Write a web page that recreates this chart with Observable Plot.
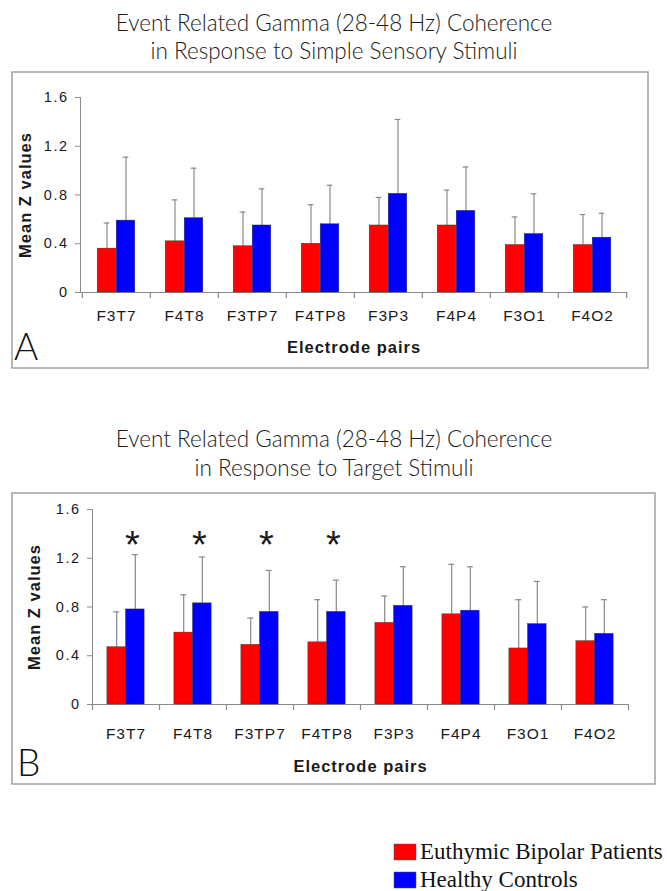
<!DOCTYPE html>
<html><head><meta charset="utf-8">
<script src="https://cdn.jsdelivr.net/npm/d3@7"></script>
<script src="https://cdn.jsdelivr.net/npm/@observablehq/plot@0.6"></script>
<style>
body{margin:0;background:#fff;}
#page{position:relative;width:667px;height:891px;overflow:hidden;background:#fff;}
.panel{position:absolute;}
.panel text{fill:#1a1a1a;letter-spacing:1px;}
.panel [aria-label^="y-axis"] text{font-size:14.5px;letter-spacing:1.5px;}
#overlay{position:absolute;left:0;top:0;pointer-events:none;}
</style></head><body><div id="page"></div>
<script>
// ---------- data ----------
const pairs = ["F3T7","F4T8","F3TP7","F4TP8","F3P3","F4P4","F3O1","F4O2"];
const seriesNames = ["Euthymic Bipolar Patients","Healthy Controls"];
const seriesColors = ["#ff0000","#0000ff"];
const yTicks = [0, 0.4, 0.8, 1.2, 1.6];
const titleA = ["Event Related Gamma (28-48 Hz) Coherence","in Response to Simple Sensory Stimuli"];
const titleB = ["Event Related Gamma (28-48 Hz) Coherence","in Response to Target Stimuli"];
const yLabel = "Mean Z values";
const xLabel = "Electrode pairs";
const panelLetters = ["A","B"];
// Panel A: simple sensory stimuli (bar = mean, whisker top = mean + SD)
const simpleBipolarMean  = [0.36,0.42,0.38,0.40,0.55,0.55,0.39,0.39];
const simpleBipolarTop   = [0.57,0.76,0.66,0.72,0.78,0.84,0.62,0.64];
const simpleControlMean  = [0.59,0.61,0.55,0.56,0.81,0.67,0.48,0.45];
const simpleControlTop   = [1.11,1.02,0.85,0.88,1.42,1.03,0.81,0.65];
// Panel B: target stimuli
const targetBipolarMean  = [0.47,0.59,0.49,0.51,0.67,0.74,0.46,0.52];
const targetBipolarTop   = [0.76,0.90,0.71,0.86,0.89,1.15,0.86,0.80];
const targetControlMean  = [0.78,0.83,0.76,0.76,0.81,0.77,0.66,0.58];
const targetControlTop   = [1.23,1.21,1.10,1.02,1.13,1.13,1.01,0.86];
const targetSignificant  = ["F3T7","F4T8","F3TP7","F4TP8"];
const starLevel = 1.30;

// ---------- drawing ----------
const page = document.getElementById("page");
const axisGray = "#8a8a8a";

function makePanel(cfg) {
  const {left, top, width, height, ml, mr, mt, mb, means, tops, stars, catDy, xLabDy, yLabDx} = cfg;
  const bw = (width - ml - mr) / pairs.length;
  const barW = bw * 0.278;
  const marks = [];
  marks.push(Plot.ruleY([0], {stroke: axisGray, strokeWidth: 1.2}));
  // category boundary ticks below the baseline
  marks.push(Plot.ruleX(pairs, {x: d => d, dx: -bw / 2, y1: () => 0, y2: () => 0, insetBottom: -6, stroke: axisGray, strokeWidth: 1.2}));
  marks.push(Plot.ruleX(pairs.slice(-1), {x: d => d, dx: bw / 2, y1: () => 0, y2: () => 0, insetBottom: -6, stroke: axisGray, strokeWidth: 1.2}));
  [0, 1].forEach(s => {
    const rows = pairs.map((p, i) => ({pair: p, mean: means[s][i], top: tops[s][i]}));
    const off = s === 0 ? -barW / 2 : barW / 2;
    marks.push(Plot.ruleX(rows, {x: "pair", y1: "mean", y2: "top", dx: off, stroke: axisGray, strokeWidth: 1.2}));
    marks.push(Plot.tickY(rows, {x: "pair", y: "top", dx: off, insetLeft: bw / 2 - 3, insetRight: bw / 2 - 3, stroke: axisGray, strokeWidth: 1.2}));
    marks.push(Plot.barY(rows, {
      x: "pair", y1: () => 0, y2: "mean", fill: seriesColors[s],
      stroke: "#333", strokeWidth: 0.4,
      insetLeft: s === 0 ? bw / 2 - barW : bw / 2,
      insetRight: s === 0 ? bw / 2 : bw / 2 - barW
    }));
  });
  if (stars) {
    marks.push(Plot.text(stars, {x: d => d, y: () => starLevel, text: () => "*", dx: 7, fontSize: 38, lineAnchor: "middle", fontFamily: "'Liberation Sans', Arial, sans-serif"}));
  }
  marks.push(Plot.text(pairs, {x: d => d, text: d => d, frameAnchor: "bottom", dy: catDy, lineAnchor: "middle", fontSize: 15.5, fontFamily: "'Liberation Sans', Arial, sans-serif"}));
  marks.push(Plot.text([xLabel], {text: d => d, frameAnchor: "bottom", dy: xLabDy, lineAnchor: "middle", fontSize: 16.5, fontWeight: "bold", fontFamily: "'Liberation Sans', Arial, sans-serif"}));
  marks.push(Plot.text([yLabel], {text: d => d, frameAnchor: "left", dx: yLabDx, rotate: -90, textAnchor: "middle", lineAnchor: "middle", fontSize: 16.5, fontWeight: "bold", fontFamily: "'Liberation Sans', Arial, sans-serif"}));

  const svg = Plot.plot({
    width, height,
    marginLeft: ml, marginRight: mr, marginTop: mt, marginBottom: mb,
    style: {fontFamily: "'Liberation Sans', Arial, sans-serif", fontSize: "14px", color: axisGray, background: "transparent", overflow: "visible"},
    x: {domain: pairs, padding: 0, axis: null},
    y: {domain: [0, 1.6], ticks: yTicks, tickFormat: d => d === 0 ? "0" : d.toFixed(1), tickSize: 5, tickPadding: 7, label: null, line: true},
    marks
  });
  const wrap = document.createElement("div");
  wrap.className = "panel";
  wrap.style.left = left + "px";
  wrap.style.top = top + "px";
  wrap.appendChild(svg);
  page.appendChild(wrap);
}

makePanel({left: 12, top: 72, width: 636, height: 296, ml: 68, mr: 21, mt: 25, mb: 76,
  means: [simpleBipolarMean, simpleControlMean], tops: [simpleBipolarTop, simpleControlTop],
  stars: null, catDy: 24, xLabDy: 55, yLabDx: -55});
makePanel({left: 12, top: 493, width: 643, height: 291, ml: 80, mr: 27, mt: 16, mb: 80,
  means: [targetBipolarMean, targetControlMean], tops: [targetBipolarTop, targetControlTop],
  stars: targetSignificant, catDy: 30, xLabDy: 62, yLabDx: -58});

// overlay: titles, frames, panel letters, legend
const ns = "http://www.w3.org/2000/svg";
const ov = document.createElementNS(ns, "svg");
ov.setAttribute("id", "overlay");
ov.setAttribute("width", 667); ov.setAttribute("height", 891);
page.appendChild(ov);
function el(tag, attrs, txt) {
  const e = document.createElementNS(ns, tag);
  for (const k in attrs) e.setAttribute(k, attrs[k]);
  if (txt != null) e.textContent = txt;
  ov.appendChild(e);
  return e;
}
const titleFont = "Lato, 'DejaVu Sans', sans-serif";
[[titleA, 31, 59], [titleB, 447, 476]].forEach(([t, y1, y2]) => {
  el("text", {x: 334, y: y1, "text-anchor": "middle", "font-family": titleFont, "font-weight": 300, "font-size": 22.5, fill: "#1a1a1a"}, t[0]);
  el("text", {x: 334, y: y2, "text-anchor": "middle", "font-family": titleFont, "font-weight": 300, "font-size": 22.5, fill: "#1a1a1a"}, t[1]);
});
el("rect", {x: 12, y: 72, width: 636, height: 296, fill: "none", stroke: "#a0a0a0", "stroke-width": 1.5});
el("rect", {x: 12, y: 493, width: 643, height: 291, fill: "none", stroke: "#a0a0a0", "stroke-width": 1.5});
el("text", {x: 14, y: 360, "font-family": titleFont, "font-weight": 300, "font-size": 37, fill: "#111"}, panelLetters[0]);
el("text", {x: 17, y: 776, "font-family": titleFont, "font-weight": 300, "font-size": 37, fill: "#111"}, panelLetters[1]);
seriesNames.forEach((name, i) => {
  const y = 844 + i * 28;
  el("rect", {x: 394, y: y, width: 22, height: 16, fill: seriesColors[i], stroke: "#555", "stroke-width": 0.5});
  el("text", {x: 420, y: y + 15, "font-family": "'Liberation Serif', 'Times New Roman', serif", "font-size": 23, fill: "#111"}, name);
});
</script></body></html>
